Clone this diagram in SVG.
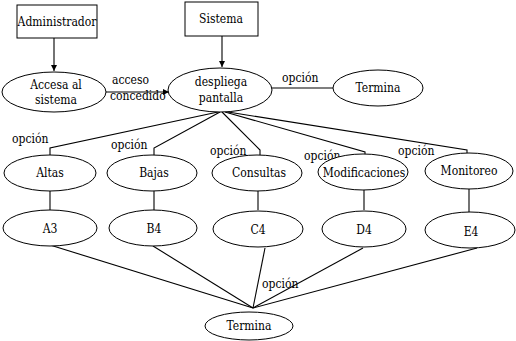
<svg xmlns="http://www.w3.org/2000/svg" width="516" height="341" viewBox="0 0 516 341" font-family="'DejaVu Serif Condensed', 'DejaVu Serif', 'Liberation Serif', serif" font-size="12" font-stretch="condensed">
  <style>
    .shape { fill: #ffffff; stroke: #000000; stroke-width: 1; }
    .edge { fill: none; stroke: #000000; stroke-width: 1.1; }
    .c { text-anchor: middle; }
  </style>
  <defs>
    <marker id="arrow" viewBox="0 0 10 10" refX="10" refY="5" markerWidth="6" markerHeight="6" orient="auto" markerUnits="userSpaceOnUse">
      <path d="M0,0 L10,5 L0,10 Z" fill="#000000"/>
    </marker>
  </defs>
  <rect width="516" height="341" fill="#ffffff"/>

  <!-- connectors -->
  <g id="connectors">
    <line class="edge" x1="54" y1="38" x2="54" y2="71" marker-end="url(#arrow)"/>
    <line class="edge" x1="222" y1="36" x2="222" y2="67" marker-end="url(#arrow)"/>
    <line class="edge" x1="106" y1="92" x2="169" y2="92" marker-end="url(#arrow)"/>
    <line class="edge" x1="272" y1="88" x2="333" y2="88"/>
    <!-- fan-out from "despliega pantalla" -->
    <polyline class="edge" points="218,112 50,148 50,155"/>
    <polyline class="edge" points="220,112 154,148 154,155"/>
    <polyline class="edge" points="222,112 260,150 260,155"/>
    <polyline class="edge" points="225,112 365,152 365,155"/>
    <polyline class="edge" points="228,112 467,150 467,153"/>
    <!-- option to result -->
    <line class="edge" x1="50" y1="191" x2="50" y2="210"/>
    <line class="edge" x1="154" y1="191" x2="154" y2="210"/>
    <line class="edge" x1="258" y1="191" x2="258" y2="210"/>
    <line class="edge" x1="364" y1="190" x2="364" y2="210"/>
    <line class="edge" x1="469" y1="188" x2="469" y2="212"/>
    <!-- results to final "Termina" -->
    <line class="edge" x1="50" y1="245" x2="253" y2="308"/>
    <line class="edge" x1="153" y1="246" x2="253" y2="308"/>
    <line class="edge" x1="265" y1="248" x2="253" y2="308"/>
    <line class="edge" x1="363" y1="248" x2="253" y2="308"/>
    <line class="edge" x1="477" y1="248" x2="253" y2="308"/>
    <!-- connector labels -->
    <text x="112" y="84">acceso</text>
    <text x="110" y="100">concedido</text>
    <text x="282" y="82">opción</text>
    <text x="12" y="143">opción</text>
    <text x="111" y="149">opción</text>
    <text x="210" y="155">opción</text>
    <text x="304" y="160">opción</text>
    <text x="398" y="155">opción</text>
    <text x="262" y="288">opción</text>
  </g>

  <g id="administrador">
    <rect class="shape" x="17" y="5" width="80" height="33"/>
    <text class="c" x="57" y="26">Administrador</text>
  </g>
  <g id="sistema">
    <rect class="shape" x="185" y="2" width="73" height="34"/>
    <text class="c" x="221" y="23">Sistema</text>
  </g>
  <g id="accesa">
    <ellipse class="shape" cx="54" cy="92" rx="52" ry="20"/>
    <text class="c" x="56" y="89">Accesa al</text>
    <text class="c" x="56" y="104">sistema</text>
  </g>
  <g id="despliega">
    <ellipse class="shape" cx="220" cy="90" rx="52" ry="22"/>
    <text class="c" x="221" y="86">despliega</text>
    <text class="c" x="221" y="102">pantalla</text>
  </g>
  <g id="termina-top">
    <ellipse class="shape" cx="378" cy="88" rx="45" ry="18"/>
    <text class="c" x="378" y="92">Termina</text>
  </g>
  <g id="altas">
    <ellipse class="shape" cx="50" cy="173" rx="46" ry="18"/>
    <text class="c" x="50" y="177">Altas</text>
  </g>
  <g id="bajas">
    <ellipse class="shape" cx="152" cy="173" rx="45" ry="18"/>
    <text class="c" x="154" y="177">Bajas</text>
  </g>
  <g id="consultas">
    <ellipse class="shape" cx="257" cy="173" rx="45" ry="18"/>
    <text class="c" x="259" y="177">Consultas</text>
  </g>
  <g id="modificaciones">
    <ellipse class="shape" cx="363" cy="172" rx="45" ry="18"/>
    <text class="c" x="364" y="177">Modificaciones</text>
  </g>
  <g id="monitoreo">
    <ellipse class="shape" cx="469" cy="171" rx="44" ry="18"/>
    <text class="c" x="469" y="175">Monitoreo</text>
  </g>
  <g id="a3">
    <ellipse class="shape" cx="50" cy="228" rx="47" ry="18"/>
    <text class="c" x="50" y="233">A3</text>
  </g>
  <g id="b4">
    <ellipse class="shape" cx="153" cy="228" rx="44" ry="18"/>
    <text class="c" x="154" y="233">B4</text>
  </g>
  <g id="c4">
    <ellipse class="shape" cx="258" cy="229" rx="45" ry="18"/>
    <text class="c" x="258" y="234">C4</text>
  </g>
  <g id="d4">
    <ellipse class="shape" cx="364" cy="229" rx="42" ry="18"/>
    <text class="c" x="364" y="234">D4</text>
  </g>
  <g id="e4">
    <ellipse class="shape" cx="470" cy="230" rx="45" ry="18"/>
    <text class="c" x="471" y="236">E4</text>
  </g>
  <g id="termina-bottom">
    <ellipse class="shape" cx="249" cy="326" rx="44" ry="14"/>
    <text class="c" x="249" y="330">Termina</text>
  </g>
</svg>
